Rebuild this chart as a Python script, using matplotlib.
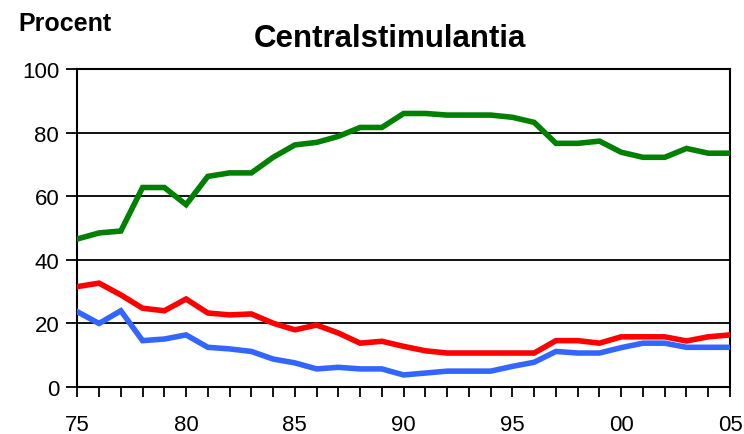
import matplotlib
matplotlib.use("Agg")
import matplotlib.pyplot as plt

plt.rcParams['font.family'] = ['Liberation Sans', 'DejaVu Sans']

years = list(range(1975, 2006))
tick_years = [1975, 1980, 1985, 1990, 1995, 2000, 2005]
tick_labels = ["75", "80", "85", "90", "95", "00", "05"]

green = [46.5, 48.4, 49.0, 62.7, 62.7, 57.3, 66.2, 67.3, 67.3, 72.2,
         76.1, 76.9, 78.8, 81.6, 81.6, 86.0, 86.0, 85.5, 85.5, 85.5,
         84.8, 83.2, 76.6, 76.6, 77.3, 73.8, 72.2, 72.2, 75.0, 73.5, 73.5]
red = [31.5, 32.6, 28.9, 24.7, 23.9, 27.6, 23.2, 22.6, 22.9, 20.0,
       17.9, 19.4, 16.9, 13.7, 14.3, 12.7, 11.3, 10.6, 10.6, 10.6,
       10.6, 10.6, 14.5, 14.5, 13.7, 15.7, 15.7, 15.7, 14.4, 15.7, 16.3]
blue = [23.6, 19.9, 23.9, 14.5, 15.0, 16.3, 12.4, 11.9, 11.1, 8.7,
        7.5, 5.6, 6.1, 5.6, 5.6, 3.7, 4.3, 4.9, 4.9, 4.9,
        6.4, 7.7, 11.1, 10.6, 10.6, 12.3, 13.7, 13.7, 12.4, 12.4, 12.4]

fig = plt.figure(figsize=(7.44, 4.35), dpi=100)
ax = fig.add_axes([77.3 / 744, 1 - 387.7 / 435, (730 - 77.3) / 744, (387.7 - 70) / 435])

for yv in [20, 40, 60, 80, 100]:
    ax.axhline(yv, color="black", lw=1.3, zorder=1)

ax.plot(years, green, color="#008000", lw=4.0, solid_joinstyle="miter", zorder=3)
ax.plot(years, red, color="#FF0000", lw=4.0, solid_joinstyle="miter", zorder=3)
ax.plot(years, blue, color="#3366FF", lw=4.0, solid_joinstyle="miter", zorder=3)

ax.set_xlim(1975, 2005)
ax.set_ylim(0, 100)
ax.set_yticks([0, 20, 40, 60, 80, 100])
ax.set_xticks(years, minor=True)
ax.set_xticks(tick_years)
ax.set_xticklabels(tick_labels)

for s in ax.spines.values():
    s.set_linewidth(1.5)
    s.set_color("black")

ax.tick_params(axis="y", which="major", direction="out", length=8, width=1.3,
               labelsize=16, pad=5)
ax.tick_params(axis="x", which="both", direction="out", length=7, width=1.3,
               labelsize=16, pad=13)

fig.text(390 / 744, 1 - 39 / 435, "Centralstimulantia", ha="center", va="center",
         fontsize=22.5, fontweight="bold")
fig.text(18 / 744, 1 - 24 / 435, "Procent", ha="left", va="center",
         fontsize=18, fontweight="bold",
         family=['Liberation Sans Narrow', 'Liberation Sans', 'DejaVu Sans'])

fig.savefig("out.png", dpi=100)
